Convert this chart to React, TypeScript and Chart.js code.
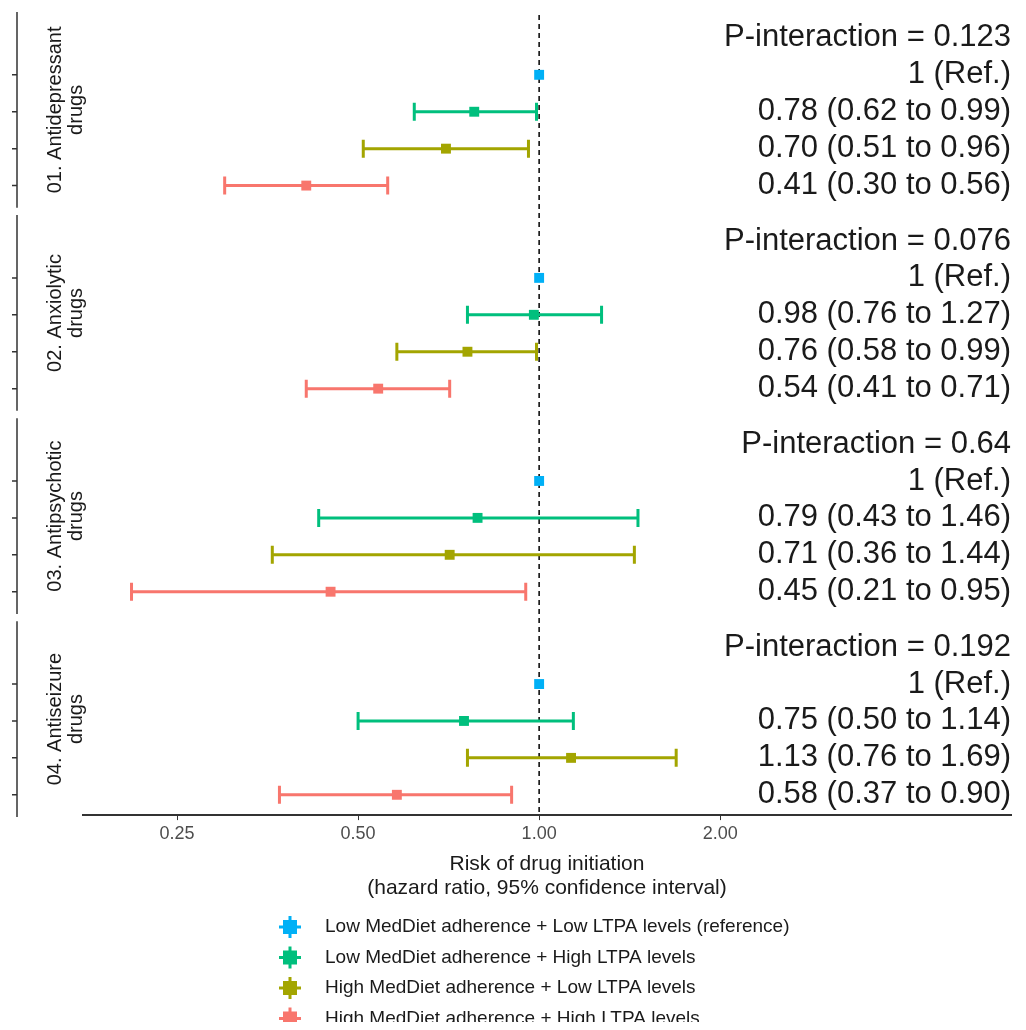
import React, { useEffect, useRef } from "react";
import { Chart, registerables } from "chart.js";
Chart.register(...registerables);

const drugs = [["01. Antidepressant", "drugs"], ["02. Anxiolytic", "drugs"], ["03. Antipsychotic", "drugs"], ["04. Antiseizure", "drugs"]];
const pInteraction = ["P-interaction = 0.123", "P-interaction = 0.076", "P-interaction = 0.64", "P-interaction = 0.192"];
const groups = [
  "Low MedDiet adherence + Low LTPA levels (reference)",
  "Low MedDiet adherence + High LTPA levels",
  "High MedDiet adherence + Low LTPA levels",
  "High MedDiet adherence + High LTPA levels",
];
const colors = ["#00B0F6", "#00BF7D", "#A3A500", "#F8766D"];
// [drug][group]
const hr = [[1, 0.78, 0.70, 0.41], [1, 0.98, 0.76, 0.54], [1, 0.79, 0.71, 0.45], [1, 0.75, 1.13, 0.58]];
const lo = [[1, 0.62, 0.51, 0.30], [1, 0.76, 0.58, 0.41], [1, 0.43, 0.36, 0.21], [1, 0.50, 0.76, 0.37]];
const hi = [[1, 0.99, 0.96, 0.56], [1, 1.27, 0.99, 0.71], [1, 1.46, 1.44, 0.95], [1, 1.14, 1.69, 0.90]];
const xTicks = [0.25, 0.5, 1, 2];

const FONT = "'Liberation Sans', Arial, sans-serif";
const rowY = (d: number, r: number) => d * 5.5 + r;
const fmt = (v: number) => v.toFixed(2);
const estLabel = (d: number, g: number) =>
  g === 0 ? "1 (Ref.)" : `${fmt(hr[d][g])} (${fmt(lo[d][g])} to ${fmt(hi[d][g])})`;

export default function App() {
  const ref = useRef<HTMLCanvasElement>(null);
  useEffect(() => {
    const overlay = {
      id: "overlay",
      beforeDatasetsDraw(chart: any) {
        const { ctx, scales, chartArea } = chart;
        const x = scales.x, y = scales.y;
        ctx.save();
        ctx.strokeStyle = "#000";
        ctx.lineWidth = 1.5;
        ctx.setLineDash([5, 4]);
        ctx.beginPath();
        ctx.moveTo(x.getPixelForValue(1), chartArea.top);
        ctx.lineTo(x.getPixelForValue(1), chartArea.bottom);
        ctx.stroke();
        ctx.setLineDash([]);
        ctx.lineWidth = 3;
        for (let d = 0; d < 4; d++) for (let g = 1; g < 4; g++) {
          const py = y.getPixelForValue(rowY(d, g + 1));
          const x1 = x.getPixelForValue(lo[d][g]), x2 = x.getPixelForValue(hi[d][g]);
          ctx.strokeStyle = colors[g];
          ctx.beginPath();
          ctx.moveTo(x1, py); ctx.lineTo(x2, py);
          ctx.moveTo(x1, py - 9); ctx.lineTo(x1, py + 9);
          ctx.moveTo(x2, py - 9); ctx.lineTo(x2, py + 9);
          ctx.stroke();
        }
        ctx.restore();
      },
      afterDraw(chart: any) {
        const { ctx, scales, chartArea } = chart;
        const y = scales.y;
        ctx.save();
        ctx.fillStyle = "#1a1a1a";
        ctx.font = `31px ${FONT}`;
        ctx.textAlign = "right";
        ctx.textBaseline = "middle";
        for (let d = 0; d < 4; d++) {
          ctx.fillText(pInteraction[d], chartArea.right, y.getPixelForValue(rowY(d, 0)));
          for (let g = 0; g < 4; g++) ctx.fillText(estLabel(d, g), chartArea.right, y.getPixelForValue(rowY(d, g + 1)));
        }
        for (let d = 0; d < 4; d++) {
          const top = y.getPixelForValue(rowY(d, 0) - 0.7);
          const bot = y.getPixelForValue(rowY(d, 4) + 0.6);
          ctx.strokeStyle = "#333";
          ctx.lineWidth = 1.5;
          ctx.beginPath();
          ctx.moveTo(9, top); ctx.lineTo(9, bot);
          for (let r = 1; r <= 4; r++) {
            const py = y.getPixelForValue(rowY(d, r));
            ctx.moveTo(4, py); ctx.lineTo(9, py);
          }
          ctx.stroke();
          const cy = (top + bot) / 2;
          ctx.save();
          ctx.translate(47, cy);
          ctx.rotate(-Math.PI / 2);
          ctx.fillStyle = "#1a1a1a";
          ctx.font = `20px ${FONT}`;
          ctx.textAlign = "center";
          ctx.textBaseline = "middle";
          ctx.fillText(drugs[d][0], 0, 0);
          ctx.fillText(drugs[d][1], 0, 21);
          ctx.restore();
        }
        ctx.font = `19px ${FONT}`;
        ctx.textAlign = "left";
        ctx.textBaseline = "middle";
        for (let g = 0; g < 4; g++) {
          const ly = 919 + g * 30.5, lx = 282;
          ctx.strokeStyle = colors[g];
          ctx.fillStyle = colors[g];
          ctx.lineWidth = 3;
          ctx.beginPath();
          ctx.moveTo(lx - 11, ly); ctx.lineTo(lx + 11, ly);
          ctx.moveTo(lx, ly - 11); ctx.lineTo(lx, ly + 11);
          ctx.stroke();
          ctx.fillRect(lx - 7, ly - 7, 14, 14);
          ctx.fillStyle = "#1a1a1a";
          ctx.fillText(groups[g], 317, ly);
        }
        ctx.restore();
      },
    };
    const chart = new Chart(ref.current!, {
      type: "scatter",
      data: {
        datasets: groups.map((label, g) => ({
          label,
          data: hr.map((row, d) => ({ x: row[g], y: rowY(d, g + 1) })),
          pointStyle: "rect",
          radius: 7,
          backgroundColor: colors[g],
          borderColor: colors[g],
          borderWidth: 0,
        })),
      },
      options: {
        responsive: false,
        animation: false,
        layout: { padding: { left: 75, right: 6, top: 0, bottom: 118 } },
        plugins: { legend: { display: false }, tooltip: { enabled: false } },
        scales: {
          x: {
            type: "logarithmic",
            min: 0.1744,
            max: 6.09,
            afterBuildTicks: (s: any) => { s.ticks = xTicks.map((v) => ({ value: v })); },
            grid: { drawOnChartArea: false, tickLength: 5, color: "#333" },
            border: { color: "#333", width: 2 },
            ticks: { color: "#4d4d4d", font: { size: 18, family: FONT }, callback: (v: any) => Number(v).toFixed(2) },
            title: { display: true, text: ["Risk of drug initiation", "(hazard ratio, 95% confidence interval)"], color: "#1a1a1a", font: { size: 21, family: FONT, lineHeight: 1.15 } },
          },
          y: { display: false, reverse: true, min: -0.62, max: 21.05 },
        },
      },
      plugins: [overlay],
    });
    return () => chart.destroy();
  }, []);
  return <canvas ref={ref} width={1010} height={1014} style={{ width: 1010, height: 1014, display: "block" }} />;
}
